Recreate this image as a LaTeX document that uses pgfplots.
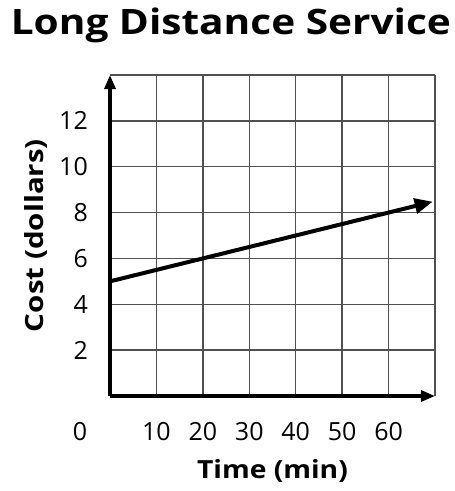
\documentclass[border=0pt]{standalone}
\usepackage{fontspec}
\setmainfont{Open Sans}
\usepackage{graphicx}
\usepackage{pgfplots}
\pgfplotsset{compat=1.18}
\usetikzlibrary{arrows.meta}
\definecolor{gridgray}{HTML}{505050}
\begin{document}
\begin{tikzpicture}[x=1pt,y=1pt]
\useasboundingbox (-110,-95) rectangle (345,396);
\begin{axis}[
  at={(0,0)}, anchor=south west,
  scale only axis, width=325pt, height=321pt,
  xmin=0, xmax=70, ymin=0, ymax=14,
  axis lines=left,
  axis line style={line width=3.2pt, -{Triangle[length=14pt,width=11pt]}},
  xtick={10,20,30,40,50,60}, ytick={2,4,6,8,10,12},
  extra x ticks={70}, extra x tick labels={},
  extra y ticks={14}, extra y tick labels={},
  extra tick style={grid=major, major tick length=0pt},
  major tick length=0pt,
  grid=major,
  major grid style={gridgray, line width=1.4pt},
  /pgf/number format/assume math mode=true,
  tick label style={font=\fontsize{25}{28}\selectfont},
  xticklabel style={anchor=center, yshift=-36pt},
  yticklabel style={anchor=east, inner sep=0pt, xshift=-22pt},
  title={\scalebox{1.16}[1]{Long Distance Service}},
  title style={font=\bfseries\fontsize{35}{40}\selectfont, at={(axis description cs:0.372,1)}, anchor=base, yshift=35pt, inner sep=0pt},
  xlabel={\scalebox{1.13}[1]{Time (min)}},
  xlabel style={font=\bfseries\fontsize{25}{28}\selectfont, at={(axis description cs:0.5,0)}, anchor=base, yshift=-82pt, inner sep=0pt},
  ylabel={\scalebox{1.18}[1]{Cost (dollars)}},
  ylabel style={font=\bfseries\fontsize{25}{28}\selectfont, at={(axis description cs:-0.206,0.5)}, anchor=base, inner sep=0pt},
  clip=false,
]
\addplot[black, line width=4pt, -{Triangle[length=18pt,width=15pt]}] coordinates {(0,5) (69.5,8.475)};
\node[font=\fontsize{25}{28}\selectfont] at (axis cs:0,0) [xshift=-30pt, yshift=-36pt] {0};
\end{axis}
\end{tikzpicture}
\end{document}
